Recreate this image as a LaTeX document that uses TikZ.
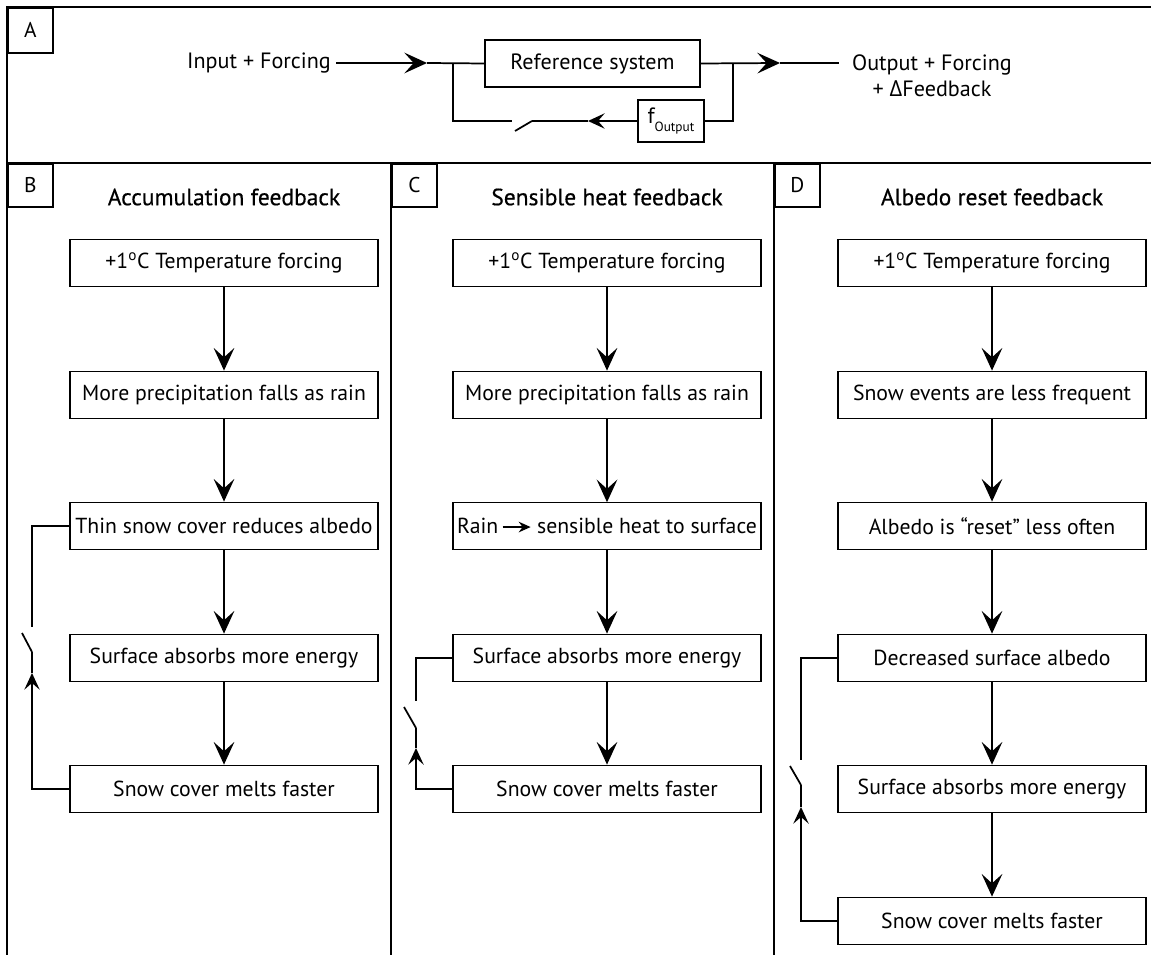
\documentclass[tikz,border=0pt]{standalone}
\usepackage{fontspec}
\setmainfont{PT Sans}
\newfontfamily\grk{Open Sans}
\newfontfamily\titlefont{PT Sans}[FakeBold=0.5]
\usetikzlibrary{arrows.meta,positioning}
\tikzset{
  stepbox/.style={draw,minimum width=231pt,minimum height=35.25pt,inner sep=0pt,font=\fontsize{16.3}{19}\selectfont},
  tag/.style={draw,anchor=north west,minimum width=33.75pt,minimum height=32.25pt,inner sep=0pt,font=\fontsize{16}{18}\selectfont},
  title/.style={font=\titlefont\fontsize{17.6}{20}\selectfont},
  plain/.style={font=\fontsize{16.6}{19.5}\selectfont},
  down/.style={-{Stealth[length=17pt,width=15.5pt,inset=7pt]}},
  back/.style={-{Stealth[length=12.5pt,width=11.5pt,inset=5pt]}},
}
\begin{document}
\begin{tikzpicture}[x=0.75pt,y=-0.75pt,line width=1.3pt]
    \useasboundingbox (0,0) rectangle (1151,955);
    % frame and panels
    \draw (1151,7) -- (7,7) -- (7,955);
    \draw (7,163) -- (1151,163);
    \draw (391,163) -- (391,955);
    \draw (774,163) -- (774,955);
    \node[tag,minimum height=33.75pt] (A) at (7,7) {A};
    \node[tag] (B) at (7,163) {B};
    \node[tag] (C) at (391,163) {C};
    \node[tag] (D) at (774,163) {D};

    % A: reference system with feedback
    \node[plain] (in) at (259,63) {Input + Forcing};
    \node[draw,plain,minimum width=161.25pt,minimum height=35.25pt,inner sep=0pt] (ref) at (592.5,63.5) {Reference system};
    \node[draw,plain,minimum width=49.5pt,minimum height=31.5pt,inner sep=0pt] (fout) at (671,121) {f\raisebox{-0.7ex}{\fontsize{10}{11}\selectfont Output}};
    \node[plain,align=center] (out) at (932,76) {Output + Forcing\\+ {\grk Δ}Feedback};
    \coordinate (jL) at (453,63);
    \coordinate (jR) at (733,63);
    \coordinate (tipIn) at (427,63);
    \coordinate (tipOut) at (780,63);
    \coordinate (outEnd) at (839,63);
    \coordinate (lowL) at (453,121);
    \coordinate (lowR) at (733,121);
    \coordinate (swA1) at (512,121);
    \coordinate (swA2) at (515,131);
    \coordinate (swA3) at (532,121);
    \coordinate (tipF) at (588,121);
    \draw [down] (in) -- (tipIn);
    \draw (tipIn) -- (ref.west);
    \draw [down] (ref.east) -- (tipOut);
    \draw (tipOut) -- (outEnd);
    \draw (jL) -- (lowL) -- (swA1);
    \draw (swA2) -- (swA3);
    \draw [back] (fout.west) -- (tipF);
    \draw (tipF) -- (swA3);
    \draw (fout.east) -- (lowR) -- (jR);

    % B: accumulation feedback
    \node[title] (tB) at (224,197) {Accumulation feedback};
    \node[stepbox] (B1) at (224,263) {+1\textsuperscript{o}C Temperature forcing};
    \node[stepbox] (B2) at (224,395) {More precipitation falls as rain};
    \node[stepbox] (B3) at (224,526) {Thin snow cover reduces albedo};
    \node[stepbox] (B4) at (224,658) {Surface absorbs more energy};
    \node[stepbox] (B5) at (224,789) {Snow cover melts faster};
    \draw [down] (B1) -- (B2);
    \draw [down] (B2) -- (B3);
    \draw [down] (B3) -- (B4);
    \draw [down] (B4) -- (B5);
    \coordinate (bTop) at (32,627);
    \coordinate (bSw1) at (22,633);
    \coordinate (bSw2) at (32,652);
    \coordinate (bTip) at (32,673);
    \draw (B3.west) -| (bTop);
    \draw (bSw1) -- (bSw2);
    \draw [back] (B5.west) -| (bTip);
    \draw (bTip) -- (bSw2);

    % C: sensible heat feedback
    \node[title] (tC) at (607,197) {Sensible heat feedback};
    \node[stepbox] (C1) at (607,263) {+1\textsuperscript{o}C Temperature forcing};
    \node[stepbox] (C2) at (607,395) {More precipitation falls as rain};
    \node[stepbox] (C3) at (607,526) {Rain\,\tikz[baseline=-0.6ex]\draw[line width=1pt,-{Stealth[length=9pt,width=8pt,inset=3pt]}] (0pt,0pt) -- (21pt,0pt);\ sensible heat to surface};
    \node[stepbox] (C4) at (607,658) {Surface absorbs more energy};
    \node[stepbox] (C5) at (607,789) {Snow cover melts faster};
    \draw [down] (C1) -- (C2);
    \draw [down] (C2) -- (C3);
    \draw [down] (C3) -- (C4);
    \draw [down] (C4) -- (C5);
    \coordinate (cTop) at (416,701);
    \coordinate (cSw1) at (404,707);
    \coordinate (cSw2) at (416,728);
    \coordinate (cTip) at (416,748);
    \draw (C4.west) -| (cTop);
    \draw (cSw1) -- (cSw2);
    \draw [back] (C5.west) -| (cTip);
    \draw (cTip) -- (cSw2);

    % D: albedo reset feedback
    \node[title] (tD) at (992,197) {Albedo reset feedback};
    \node[stepbox] (D1) at (992,263) {+1\textsuperscript{o}C Temperature forcing};
    \node[stepbox] (D2) at (992,395) {Snow events are less frequent};
    \node[stepbox] (D3) at (992,526) {Albedo is “reset” less often};
    \node[stepbox] (D4) at (992,658) {Decreased surface albedo};
    \node[stepbox] (D5) at (992,789) {Surface absorbs more energy};
    \node[stepbox] (D6) at (992,921) {Snow cover melts faster};
    \draw [down] (D1) -- (D2);
    \draw [down] (D2) -- (D3);
    \draw [down] (D3) -- (D4);
    \draw [down] (D4) -- (D5);
    \draw [down] (D5) -- (D6);
    \coordinate (dTop) at (801,760);
    \coordinate (dSw1) at (790,766);
    \coordinate (dSw2) at (801,785);
    \coordinate (dTip) at (801,807);
    \draw (D4.west) -| (dTop);
    \draw (dSw1) -- (dSw2);
    \draw [back] (D6.west) -| (dTip);
    \draw (dTip) -- (dSw2);
\end{tikzpicture}
\end{document}
